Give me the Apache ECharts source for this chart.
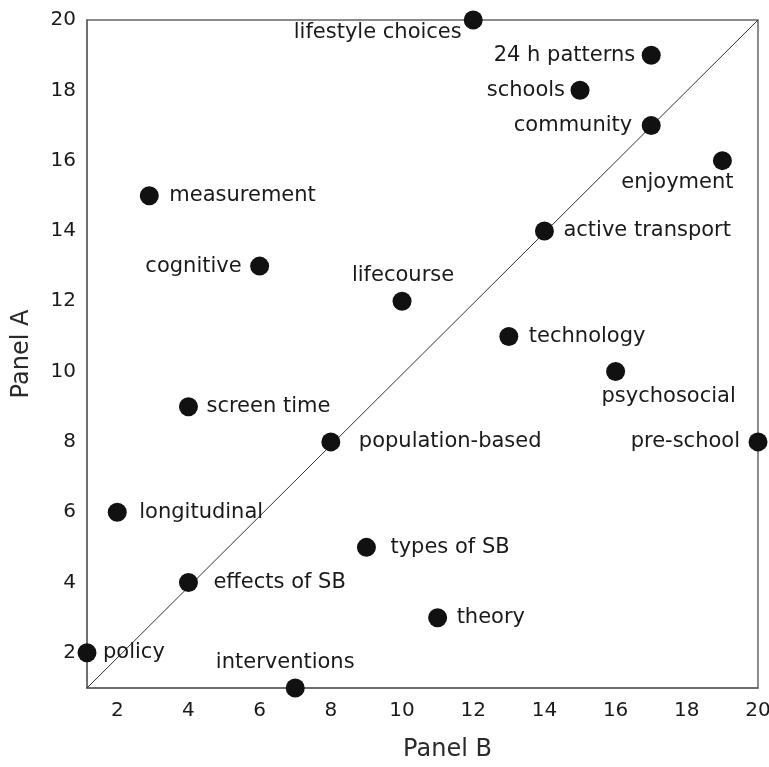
<!DOCTYPE html>
<html>
<head>
<meta charset="utf-8">
<script src="https://cdn.jsdelivr.net/npm/echarts@6/dist/echarts.min.js"></script>
<style>
html,body{margin:0;padding:0;background:#fff;}
#chart{width:769px;height:767px;}
</style>
</head>
<body>
<div id="chart"></div>
<script>
// ---- data ----
var topics = ['lifestyle choices','24 h patterns','schools','community','enjoyment','measurement','active transport','cognitive','lifecourse','technology','psychosocial','screen time','population-based','pre-school','longitudinal','types of SB','effects of SB','theory','policy','interventions'];
var panelB = [12, 17, 15, 17, 19, 2.9, 14, 6, 10, 13, 16, 4, 8, 20, 2, 9, 4, 11, 1.15, 7];
var panelA = [20, 19, 18, 17, 16, 15, 14, 13, 12, 11, 10, 9, 8, 8, 6, 5, 4, 3, 2, 1];
var tickValues = [2, 4, 6, 8, 10, 12, 14, 16, 18, 20];
var diagonalX = [1.15, 20];
var diagonalY = [1, 20];

// ---- label placement (style) ----
var labelStyle = {
  'lifestyle choices': {position:'left', distance:2, offset:[0,13]},
  '24 h patterns': {position:'left', distance:6.5},
  'schools': {position:'left', distance:5.5},
  'community': {position:'left', distance:9.5},
  'enjoyment': {position:'inside', offset:[-45,22]},
  'measurement': {position:'right', distance:10.5},
  'active transport': {position:'right', distance:9.5},
  'cognitive': {position:'left', distance:8.5},
  'lifecourse': {position:'inside', offset:[1,-26]},
  'technology': {position:'right', distance:10.5},
  'psychosocial': {position:'inside', offset:[53,25]},
  'screen time': {position:'right', distance:8.5},
  'population-based': {position:'right', distance:18.5},
  'pre-school': {position:'left', distance:8.5},
  'longitudinal': {position:'right', distance:12.5},
  'types of SB': {position:'right', distance:14.5},
  'effects of SB': {position:'right', distance:15.5},
  'theory': {position:'right', distance:9.5},
  'policy': {position:'right', distance:6.5},
  'interventions': {position:'inside', offset:[-10,-25]}
};

var FONT = '"DejaVu Sans", sans-serif';
var TEXT = '#1a1a1a';
var points = topics.map(function(t, i){
  var ls = labelStyle[t];
  return {
    name: t,
    value: [panelB[i], panelA[i]],
    label: Object.assign({show:true, formatter:t, color: TEXT, fontFamily: FONT, fontSize: 21}, ls)
  };
});

var chart = echarts.init(document.getElementById('chart'));
chart.setOption({
  animation: false,
  backgroundColor: '#fff',
  grid: {left: 87, right: 11, top: 20, bottom: 79, outerBoundsMode: 'none', containLabel: false,
         show: true, borderColor: '#666', borderWidth: 1.5, backgroundColor: 'transparent'},
  xAxis: {
    type: 'value', min: diagonalX[0], max: 20,
    name: 'Panel B', nameLocation: 'middle', nameGap: 50,
    nameTextStyle: {fontFamily: FONT, fontSize: 24, color: '#2a2a2a', padding: [0,0,0,50]},
    axisLine: {show: true, lineStyle: {color: '#666', width: 1.5}},
    axisTick: {show: false},
    splitLine: {show: false},
    axisLabel: {customValues: tickValues, fontFamily: FONT, fontSize: 20, color: TEXT, margin: 13}
  },
  yAxis: {
    type: 'value', min: diagonalY[0], max: 20,
    name: 'Panel A', nameLocation: 'middle', nameGap: 53,
    nameTextStyle: {fontFamily: FONT, fontSize: 24, color: '#2a2a2a'},
    axisLine: {show: true, lineStyle: {color: '#666', width: 1.5}},
    axisTick: {show: false},
    splitLine: {show: false},
    axisLabel: {customValues: tickValues, fontFamily: FONT, fontSize: 20, color: TEXT, margin: 11}
  },
  series: [
    {
      type: 'line',
      data: [[diagonalX[0], diagonalY[0]], [diagonalX[1], diagonalY[1]]],
      symbol: 'none',
      lineStyle: {color: '#333', width: 1, opacity: 1},
      silent: true,
      z: 1
    },
    {
      type: 'scatter',
      data: points,
      symbolSize: 19,
      clip: false,
      itemStyle: {color: '#111', opacity: 1},
      emphasis: {disabled: true},
      z: 2
    }
  ]
});
</script>
</body>
</html>
